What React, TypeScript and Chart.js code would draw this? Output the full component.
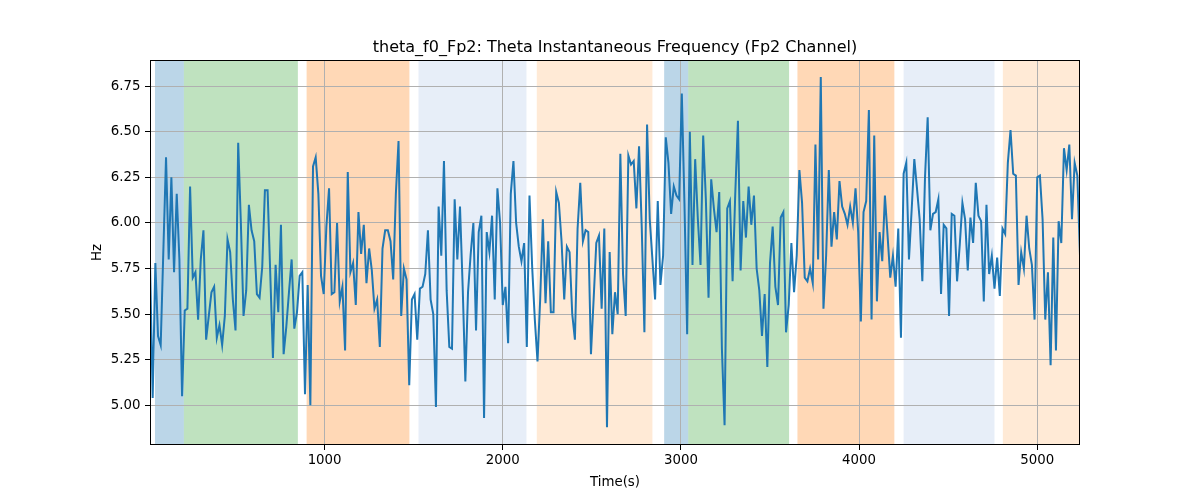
import React, { useEffect, useRef } from "react";
import Chart from "chart.js/auto";

// sampling of the frequency trace (seconds)
const timeStart = 20;
const timeStep = 15;

const freqHz: number[] = [
  5.78, 5.04, 5.78, 5.38, 5.33, 5.85, 6.36, 5.8, 6.25, 5.73, 6.16, 5.8, 5.05, 5.52, 5.53, 6.2, 5.7, 5.73, 5.47, 5.8,
  5.96, 5.36, 5.49, 5.62, 5.65, 5.37, 5.44, 5.33, 5.49, 5.91, 5.84, 5.58, 5.41, 6.44, 6.0, 5.49, 5.63, 6.1, 5.96, 5.9,
  5.61, 5.59, 5.76, 6.18, 6.18,
  5.72, 5.26, 5.77, 5.51, 5.99, 5.28, 5.43, 5.62, 5.8, 5.42, 5.51, 5.71, 5.73, 5.06, 5.66, 5.0, 6.31, 6.36, 6.16, 5.71,
  5.61, 5.98, 6.19, 5.61, 5.62, 6.0, 5.57, 5.65, 5.3, 6.28, 5.73, 5.78, 5.55, 6.06, 5.83, 5.99, 5.67, 5.86, 5.74, 5.53,
  5.58, 5.32, 5.86, 5.96, 5.96,
  5.9, 5.69, 6.16, 6.45, 5.49, 5.75, 5.69, 5.11, 5.58, 5.61, 5.36, 5.64, 5.65, 5.72, 5.96, 5.58, 5.5, 4.99, 6.09, 5.82,
  6.34, 5.63, 5.32, 5.31, 6.13, 5.8, 6.09, 5.65, 5.13, 5.62, 5.83, 6.0, 5.41, 5.95, 6.04, 4.93, 5.95, 5.84, 6.04, 5.58,
  6.19, 6.0, 5.55, 5.65, 5.34,
  6.16, 6.34, 6.0, 5.87, 5.79, 5.89, 5.32, 6.15, 5.76, 5.47, 5.24, 5.58, 6.02, 5.56, 5.9, 5.51, 5.51, 6.17, 6.11, 5.9,
  5.58, 5.87, 5.84, 5.5, 5.36, 5.97, 6.22, 5.9, 5.96, 5.95, 5.28, 5.58, 5.89, 5.93, 5.53, 5.97, 4.88, 5.84, 5.39, 5.62,
  5.5, 6.38, 5.72, 5.49, 6.37,
  6.32, 6.34, 6.08, 6.42, 5.98, 5.4, 6.54, 6.02, 5.8, 5.58, 6.12, 5.66, 5.82, 6.47, 6.33, 6.05, 6.2, 6.15, 6.13, 6.71,
  6.1, 5.39, 6.5, 5.77, 6.35, 6.02, 5.77, 6.48, 6.13, 5.59, 6.24, 6.08, 5.95, 6.17, 5.31, 4.89, 6.08, 6.12, 5.68, 6.16,
  6.56, 5.74, 6.12, 5.92, 6.2,
  5.99, 6.15, 5.75, 5.63, 5.38, 5.61, 5.21, 5.78, 5.98, 5.65, 5.55, 6.03, 6.06, 5.4, 5.55, 5.89, 5.62, 5.82, 6.29, 6.11,
  5.7, 5.68, 5.75, 5.67, 6.43, 5.8, 6.8, 5.53, 5.82, 6.29, 5.87, 6.06, 5.91, 6.23, 6.09, 6.05, 5.99, 6.09, 6.0, 6.19,
  5.95, 5.46, 6.06, 6.12, 6.62,
  5.47, 6.48, 5.57, 5.95, 5.79, 6.15, 5.93, 5.7, 5.82, 5.65, 5.97, 5.37, 6.27, 6.33, 5.8, 6.07, 6.35, 6.19, 6.02, 5.68,
  6.25, 6.58, 5.96, 6.05, 6.06, 6.13, 5.61, 5.99, 5.97, 5.49, 6.05, 6.04, 5.68, 5.88, 6.11, 6.02, 5.74, 6.03, 5.89, 6.22,
  6.04, 6.01, 5.57, 6.1, 5.72,
  5.82, 5.64, 5.81, 5.6, 5.97, 5.94, 6.33, 6.51, 6.27, 6.26, 5.66, 5.84, 5.75, 6.04, 5.86, 5.77, 5.47, 6.25, 6.26, 6.02,
  5.47, 5.73, 5.22, 5.92, 5.3, 6.01, 5.89, 6.41, 6.29, 6.43, 6.02, 6.33, 6.26, 5.82,
];

const xTicks = [1000, 2000, 3000, 4000, 5000];
const yTicks = [5.0, 5.25, 5.5, 5.75, 6.0, 6.25, 6.5, 6.75];

// shaded intervals
const spanStarts = [48, 210, 899, 1527, 2191, 2906, 3041, 3654, 4250, 4807];
const spanEnds = [210, 850, 1476, 2133, 2840, 3041, 3607, 4198, 4760, 5260];
const spanKinds = ["blue", "green", "orange", "lightblue", "lightorange", "blue", "green", "orange", "lightblue", "lightorange"];

const spanColors: Record<string, string> = {
  blue: "rgba(31,119,180,0.3)",
  green: "rgba(44,160,44,0.3)",
  orange: "rgba(255,127,14,0.3)",
  lightblue: "rgba(174,199,232,0.3)",
  lightorange: "rgba(255,187,120,0.3)",
};

const titleText = "theta_f0_Fp2: Theta Instantaneous Frequency (Fp2 Channel)";
const FONT = "'DejaVu Sans', sans-serif";

const framePlugin = {
  id: "frame",
  beforeDraw(chart: any) {
    const { ctx, chartArea, scales } = chart;
    ctx.save();
    ctx.beginPath();
    ctx.rect(chartArea.left, chartArea.top, chartArea.width, chartArea.height);
    ctx.clip();
    spanStarts.forEach((s, i) => {
      const x1 = scales.x.getPixelForValue(s);
      const x2 = scales.x.getPixelForValue(spanEnds[i]);
      ctx.fillStyle = spanColors[spanKinds[i]];
      ctx.fillRect(x1, chartArea.top, x2 - x1, chartArea.height);
    });
    ctx.restore();
  },
  afterDraw(chart: any) {
    const { ctx, chartArea } = chart;
    ctx.save();
    ctx.strokeStyle = "#000";
    ctx.lineWidth = 1;
    ctx.strokeRect(
      Math.round(chartArea.left) + 0.5,
      Math.round(chartArea.top) + 0.5,
      Math.round(chartArea.width) - 1,
      Math.round(chartArea.height) - 1
    );
    ctx.fillStyle = "#000";
    ctx.font = `16px ${FONT}`;
    ctx.textAlign = "center";
    ctx.textBaseline = "alphabetic";
    ctx.fillText(titleText, (chartArea.left + chartArea.right) / 2, chartArea.top - 8);
    ctx.restore();
  },
};

const App: React.FC = () => {
  const canvasRef = useRef<HTMLCanvasElement>(null);
  const chartRef = useRef<Chart>();

  useEffect(() => {
    if (!canvasRef.current) return;
    const ctx = canvasRef.current.getContext("2d");
    if (!ctx) return;
    if (chartRef.current) chartRef.current.destroy();

    const points = freqHz.map((v, i) => ({ x: timeStart + i * timeStep, y: v }));

    chartRef.current = new Chart(ctx, {
      type: "line",
      data: {
        datasets: [
          {
            label: "theta_f0_Fp2",
            data: points,
            borderColor: "#1f77b4",
            borderWidth: 2,
            pointRadius: 0,
            tension: 0,
            fill: false,
          },
        ],
      },
      options: {
        animation: false,
        responsive: false,
        devicePixelRatio: 1,
        layout: { padding: { top: 60, right: 120, left: 0, bottom: 0 } },
        plugins: {
          legend: { display: false },
          tooltip: { enabled: false },
          title: { display: false },
        },
        scales: {
          x: {
            type: "linear",
            min: timeStart,
            max: timeStart + (freqHz.length - 1) * timeStep,
            afterBuildTicks: (scale: any) => {
              scale.ticks = xTicks.map((v) => ({ value: v }));
            },
            afterFit: (scale: any) => {
              scale.height = 55;
            },
            border: { display: false },
            grid: { color: "#b0b0b0", lineWidth: 1, tickColor: "#000", tickLength: 5 },
            ticks: {
              color: "#000",
              font: { family: FONT, size: 13.33 },
              padding: 3,
              maxRotation: 0,
              callback: (v: any) => String(v),
            },
            title: {
              display: true,
              text: "Time(s)",
              color: "#000",
              font: { family: FONT, size: 13.33 },
              padding: { top: 0, bottom: 9 },
            },
          },
          y: {
            type: "linear",
            min: 4.782,
            max: 6.894,
            afterBuildTicks: (scale: any) => {
              scale.ticks = yTicks.map((v) => ({ value: v }));
            },
            afterFit: (scale: any) => {
              scale.width = 150;
            },
            border: { display: false },
            grid: { color: "#b0b0b0", lineWidth: 1, tickColor: "#000", tickLength: 5 },
            ticks: {
              color: "#000",
              font: { family: FONT, size: 13.33 },
              padding: 4.5,
              callback: (v: any) => Number(v).toFixed(2),
            },
            title: {
              display: true,
              text: "Hz",
              color: "#000",
              font: { family: FONT, size: 13.33 },
              padding: { top: 90, bottom: 0 },
            },
          },
        },
      },
      plugins: [framePlugin],
    });

    return () => {
      if (chartRef.current) {
        chartRef.current.destroy();
        chartRef.current = undefined;
      }
    };
  }, []);

  return (
    <div style={{ position: "absolute", left: 0, top: 0, width: "1200px", height: "500px", background: "#fff" }}>
      <canvas ref={canvasRef} width={1200} height={500} style={{ width: "1200px", height: "500px" }} />
    </div>
  );
};

export default App;
